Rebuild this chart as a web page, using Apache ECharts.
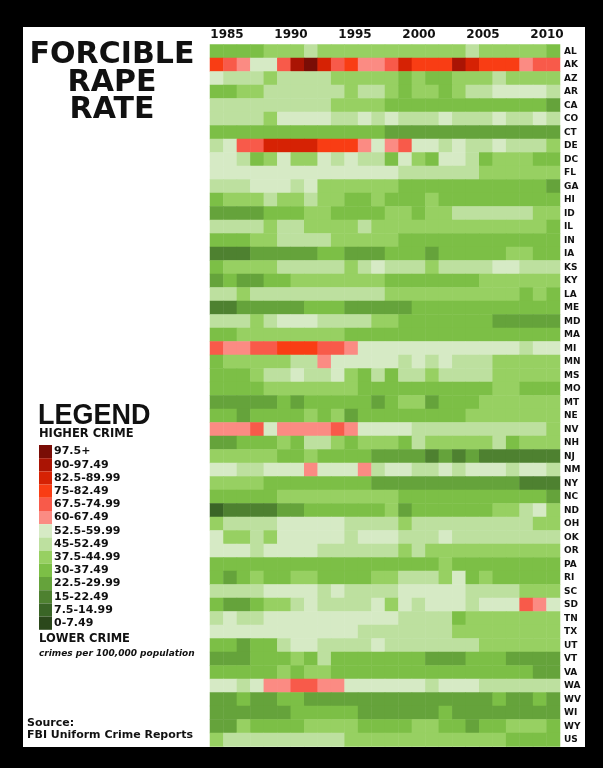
<!DOCTYPE html>
<html><head><meta charset="utf-8">
<script src="https://cdn.jsdelivr.net/npm/echarts@6/dist/echarts.min.js"></script>
<style>
html,body{margin:0;padding:0;background:#000;}
#panel{position:absolute;left:23px;top:27px;width:562px;height:720px;background:#fff;}
#chart{position:absolute;left:0;top:0;width:603px;height:768px;}
</style></head><body>
<div id="panel"></div><div id="chart"></div>
<script>
const years = [1985,1986,1987,1988,1989,1990,1991,1992,1993,1994,1995,1996,1997,1998,1999,2000,2001,2002,2003,2004,2005,2006,2007,2008,2009,2010];
const yearTicks = [1985,1990,1995,2000,2005,2010];
const states = ['AL','AK','AZ','AR','CA','CO','CT','DE','DC','FL','GA','HI','ID','IL','IN','IA','KS','KY','LA','ME','MD','MA','MI','MN','MS','MO','MT','NE','NV','NH','NJ','NM','NY','NC','ND','OH','OK','OR','PA','RI','SC','SD','TN','TX','UT','VT','VA','WA','WV','WI','WY','US'];

// estimated rates (crimes per 100,000), one array per state, 1985..2010
const AL = [34,34,34,34,41,41,41,49,41,41,41,41,41,41,41,41,41,41,41,49,41,41,41,41,41,34];
const AK = [79,71,64,56,56,71,94,101,86,71,79,64,64,71,86,79,79,79,94,86,79,79,79,64,71,71];
const AZ = [56,49,49,49,41,49,49,49,49,41,41,41,41,41,34,41,34,34,41,41,41,49,41,41,41,41];
const AR = [34,34,41,41,49,49,49,49,49,49,41,49,49,41,34,41,41,34,41,49,49,56,56,56,56,49];
const CA = [49,49,49,49,49,49,49,49,49,41,41,41,41,34,34,34,34,34,34,34,34,34,34,34,34,26];
const CO = [49,49,49,49,41,56,56,56,56,49,49,56,49,56,49,49,49,56,49,49,49,56,49,49,56,49];
const CT = [34,34,34,34,34,34,34,34,34,34,34,34,34,26,26,26,26,26,26,26,26,26,26,26,26,26];
const DE = [49,56,71,71,86,86,86,86,79,79,79,64,56,64,71,56,56,49,56,49,49,56,49,49,49,41];
const DC = [56,56,49,34,41,56,41,41,56,49,56,49,49,34,56,41,34,56,56,49,34,41,41,41,34,34];
const FL = [56,56,56,56,56,56,56,56,56,56,56,56,56,56,49,49,49,49,49,49,41,41,41,41,41,41];
const GA = [49,49,49,56,56,56,49,56,41,41,41,41,41,41,34,34,34,34,34,34,34,34,34,34,34,26];
const HI = [34,41,41,41,49,41,41,49,41,41,34,34,41,34,34,34,41,34,34,34,34,34,34,34,34,34];
const ID = [26,26,26,26,34,34,34,41,41,34,34,34,34,41,41,34,41,41,49,49,49,49,49,49,41,41];
const IL = [49,49,49,49,41,49,49,41,41,41,41,49,41,41,41,41,41,41,41,41,41,41,41,41,41,34];
const IN = [34,34,34,41,41,49,49,49,49,41,41,41,41,41,34,34,34,34,34,34,34,34,34,34,34,34];
const IA = [19,19,19,26,26,26,26,26,34,34,26,26,26,34,34,34,26,34,34,34,34,34,41,41,34,34];
const KS = [34,41,41,41,41,49,49,49,49,49,41,49,56,49,49,49,41,49,49,49,49,56,56,49,49,49];
const KY = [26,34,26,26,34,34,41,41,41,41,41,41,41,34,34,34,34,34,34,34,41,41,41,41,41,41];
const LA = [49,49,41,49,49,49,49,49,49,49,49,49,49,41,41,41,41,41,41,41,41,41,41,34,41,34];
const ME = [19,19,26,26,26,26,26,34,34,34,26,26,26,26,26,34,34,34,34,34,34,34,34,34,34,34];
const MD = [49,49,49,41,49,56,56,56,49,49,49,49,41,41,34,34,34,34,34,34,34,26,26,26,26,26];
const MA = [34,34,41,41,41,41,41,41,41,41,34,34,34,34,34,34,34,34,34,34,34,34,34,34,34,34];
const MI = [71,64,64,71,71,79,79,79,71,71,64,56,56,56,56,56,56,56,56,56,56,56,56,49,56,56];
const MN = [34,41,41,41,41,41,49,49,64,56,56,56,56,56,49,56,49,56,49,49,49,41,41,41,41,41];
const MS = [34,34,34,41,49,49,56,49,49,56,41,34,49,34,49,49,41,49,49,49,49,41,41,41,41,41];
const MO = [34,34,34,34,41,41,41,41,41,41,41,34,34,34,34,34,34,34,34,34,34,41,41,34,34,34];
const MT = [26,26,26,26,26,34,26,34,34,34,34,34,26,34,41,41,26,34,34,34,41,41,41,41,41,41];
const NE = [34,34,26,34,34,34,34,41,34,41,26,34,34,34,34,34,34,34,34,41,41,41,41,41,41,41];
const NV = [64,64,64,71,56,64,64,64,64,71,64,56,56,56,56,49,49,49,49,49,49,49,49,49,49,41];
const NH = [26,26,34,34,34,41,34,49,49,41,34,41,41,41,34,49,41,41,41,41,41,49,34,41,41,41];
const NJ = [41,41,41,41,41,34,34,41,34,34,34,34,26,26,26,26,19,26,19,26,19,19,19,19,19,19];
const NM = [56,56,49,49,56,56,56,64,56,56,56,64,49,56,56,49,49,56,49,56,56,56,49,56,56,49];
const NY = [41,41,41,41,34,34,34,34,34,34,34,34,26,26,26,26,26,26,26,26,26,26,26,19,19,19];
const NC = [34,34,34,34,34,41,41,41,41,41,41,41,41,41,34,34,34,34,34,34,34,34,34,34,34,26];
const ND = [11,19,19,19,19,26,26,34,34,34,34,34,34,41,26,34,34,34,34,34,34,41,41,49,56,41];
const OH = [41,49,49,49,49,56,56,56,56,56,49,49,49,49,41,49,49,49,49,49,49,49,49,49,41,41];
const OK = [56,41,41,49,41,56,56,56,56,56,49,56,56,56,49,49,49,56,49,49,49,49,49,49,49,49];
const OR = [56,56,56,49,56,56,56,56,49,49,49,49,49,49,41,49,41,41,41,41,41,41,41,41,41,41];
const PA = [34,34,34,34,34,34,34,34,34,34,34,34,34,34,34,34,34,41,34,34,34,34,34,34,34,34];
const RI = [34,26,34,41,34,34,41,41,34,34,34,34,41,41,49,49,49,41,56,34,41,34,34,34,34,34];
const SC = [49,49,49,49,56,56,56,56,49,56,49,49,49,49,56,56,56,56,56,49,49,49,49,41,41,41];
const SD = [34,26,26,34,41,41,49,56,49,49,49,49,56,41,56,49,56,56,56,49,56,56,56,71,64,56];
const TN = [49,56,49,49,56,56,56,56,56,56,56,56,56,56,49,49,49,49,34,41,41,41,41,41,41,41];
const TX = [56,56,56,56,56,56,56,56,56,56,56,49,49,49,49,49,49,49,41,41,41,41,41,41,41,41];
const UT = [34,34,26,34,34,49,56,56,49,49,49,49,56,49,49,49,49,49,49,49,41,41,41,41,41,41];
const VT = [26,26,26,34,34,34,41,34,49,34,34,34,34,34,34,34,26,26,26,34,34,34,26,26,26,26];
const VA = [34,34,34,34,34,41,34,41,41,34,34,34,34,34,34,34,34,34,34,34,34,34,34,34,26,26];
const WA = [56,56,49,56,64,64,71,71,64,64,56,56,56,56,56,56,49,56,56,56,49,49,49,49,49,49];
const WV = [26,26,34,26,26,34,34,26,26,26,26,26,26,26,26,26,26,26,26,26,26,34,26,26,34,26];
const WI = [26,26,26,26,26,26,34,34,34,34,34,26,26,26,26,26,26,34,26,26,26,26,26,26,26,26];
const WY = [26,26,41,34,34,34,34,41,41,41,41,34,34,34,34,41,41,34,34,26,34,34,41,41,41,34];
const US = [41,49,49,49,49,49,49,49,49,49,41,41,41,41,41,41,41,41,41,41,41,41,34,34,34,34];

const rateRows = [AL,AK,AZ,AR,CA,CO,CT,DE,DC,FL,GA,HI,ID,IL,IN,IA,KS,KY,LA,ME,MD,MA,MI,MN,MS,MO,MT,NE,NV,NH,NJ,NM,NY,NC,ND,OH,OK,OR,PA,RI,SC,SD,TN,TX,UT,VT,VA,WA,WV,WI,WY,US];

// legend bins (low to high)
const binLower = [0,7.5,15,22.5,30,37.5,45,52.5,60,67.5,75,82.5,90,97.5];
const binLabels = ['0-7.49','7.5-14.99','15-22.49','22.5-29.99','30-37.49','37.5-44.99','45-52.49','52.5-59.99','60-67.49','67.5-74.99','75-82.49','82.5-89.99','90-97.49','97.5+'];
const binColors = ['#2b481b','#3a6526','#4e8130','#65a33b','#7cbf46','#97d062','#bde09f','#d6eac5','#fb8b83','#f85a4a','#f93d14','#d62204','#aa1404','#7a0d06'];

const heatData = [];
rateRows.forEach((row, r) => row.forEach((v, c) => heatData.push([c, r, v])));

const pieces = binLower.map((lo, i) => {
  const p = {gte: lo, label: binLabels[i], color: binColors[i]};
  if (i < binLower.length - 1) p.lt = binLower[i + 1];
  return p;
});

const chart = echarts.init(document.getElementById('chart'), null, {renderer: 'canvas'});
const FONT = 'DejaVu Sans';
const txt = (text, x, y, size, opts) => Object.assign({
  type: 'text', x: x, y: y,
  style: {text: text, fill: '#111', font: 'bold ' + size + 'px "' + FONT + '"', textAlign: 'left', textVerticalAlign: 'middle'}
}, opts || {});

chart.setOption({
  backgroundColor: 'transparent',
  animation: false,
  grid: {left: 210, right: 43, top: 44.5, bottom: 21.5},
  xAxis: [
    {type: 'category', data: years, show: false},
    {type: 'value', position: 'top', min: 1983.672, max: 2011.016,
     axisLine: {show: false}, axisTick: {show: false}, splitLine: {show: false},
     axisLabel: {customValues: yearTicks, margin: 4, color: '#111', fontFamily: FONT, fontWeight: 'bold', fontSize: 12,
       formatter: v => String(v)}}
  ],
  yAxis: {type: 'category', data: states, inverse: true, position: 'right',
    axisLine: {show: false}, axisTick: {show: false}, splitLine: {show: false},
    axisLabel: {interval: 0, margin: 4, color: '#111', fontFamily: FONT, fontWeight: 'bold', fontSize: 9}},
  visualMap: {
    type: 'piecewise', pieces: pieces, orient: 'vertical', left: 24, top: 430,
    itemWidth: 13, itemHeight: 13.2, itemGap: 0, itemSymbol: 'rect', textGap: 2,
    selectedMode: false, hoverLink: false, showLabel: true,
    textStyle: {color: '#111', fontFamily: FONT, fontWeight: 'bold', fontSize: 11}
  },
  series: [{
    type: 'heatmap', data: heatData, xAxisIndex: 0, yAxisIndex: 0,
    itemStyle: {borderWidth: 0}, emphasis: {disabled: true}
  }],
  graphic: [
    txt('FORCIBLE', 112, 55, 30, {style: {text: 'FORCIBLE', fill: '#111', font: 'bold 30px "' + FONT + '"', textAlign: 'center', textVerticalAlign: 'middle'}}),
    txt('RAPE', 112, 83, 30, {style: {text: 'RAPE', fill: '#111', font: 'bold 30px "' + FONT + '"', textAlign: 'center', textVerticalAlign: 'middle'}}),
    txt('RATE', 112, 110, 30, {style: {text: 'RATE', fill: '#111', font: 'bold 30px "' + FONT + '"', textAlign: 'center', textVerticalAlign: 'middle'}}),
    txt('LEGEND', 38, 416, 29, {scaleX: 0.93, style: {text: 'LEGEND', fill: '#111', font: 'bold 29px "Liberation Sans"', textAlign: 'left', textVerticalAlign: 'middle'}}),
    txt('HIGHER CRIME', 39, 434, 11.5),
    txt('LOWER CRIME', 39, 639, 11.5),
    txt('crimes per 100,000 population', 39, 654, 9, {style: {text: 'crimes per 100,000 population', fill: '#111', font: 'italic bold 9px "' + FONT + '"', textAlign: 'left', textVerticalAlign: 'middle'}}),
    txt('Source:', 27, 723, 11),
    txt('FBI Uniform Crime Reports', 27, 735, 11)
  ]
});
</script>
</body></html>
